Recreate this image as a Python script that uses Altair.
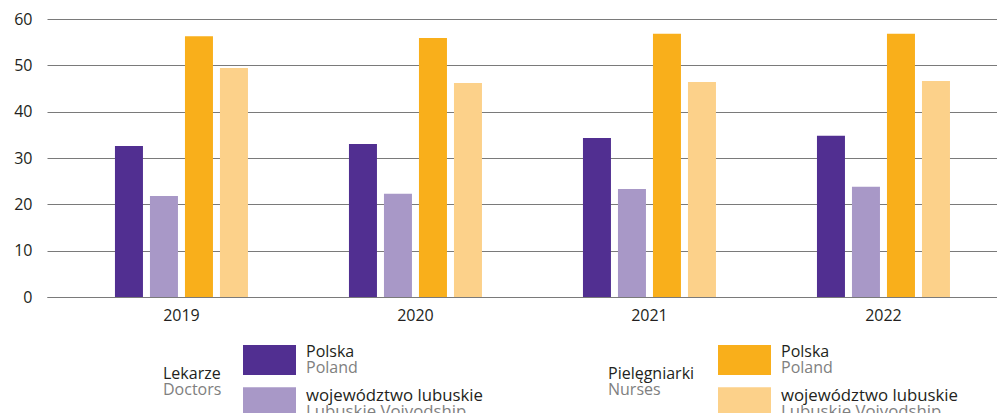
import altair as alt
import pandas as pd

years = ["2019", "2020", "2021", "2022"]
series_keys = ["doc_pl", "doc_lub", "nur_pl", "nur_lub"]
doctors_poland = [32.6, 33.0, 34.3, 34.8]
doctors_lubuskie = [21.8, 22.3, 23.3, 23.8]
nurses_poland = [56.3, 55.9, 56.8, 56.8]
nurses_lubuskie = [49.4, 46.2, 46.4, 46.6]
colors = ["#512F91", "#A898C7", "#F9AF1B", "#FCD18A"]
y_ticks = [0, 10, 20, 30, 40, 50, 60]

group_titles_pl = ["Lekarze", "Pielęgniarki"]
group_titles_en = ["Doctors", "Nurses"]
item_labels_pl = ["Polska", "województwo lubuskie"]
item_labels_en = ["Poland", "Lubuskie Voivodship"]

FONT = "Open Sans"
DARK = "#231F20"
GREY = "#808080"

rows = []
for i, yr in enumerate(years):
    for key, vals in zip(series_keys, [doctors_poland, doctors_lubuskie, nurses_poland, nurses_lubuskie]):
        rows.append({"year": yr, "series": key, "value": vals[i]})
df = pd.DataFrame(rows)

bars = alt.Chart(df).mark_bar().encode(
    x=alt.X("year:N", sort=years, title=None,
            scale=alt.Scale(paddingInner=0.4316, paddingOuter=0.2457, align=0.591),
            axis=alt.Axis(labelAngle=0, labelFont=FONT, labelFontSize=16, labelColor=DARK,
                          labelPadding=10, ticks=False, domain=True, domainColor="#7a7a7a",
                          domainWidth=1, grid=False)),
    xOffset=alt.XOffset("series:N", sort=series_keys,
                        scale=alt.Scale(paddingInner=0.2, paddingOuter=0)),
    y=alt.Y("value:Q", title=None, scale=alt.Scale(domain=[0, 60], nice=False),
            axis=alt.Axis(values=y_ticks, labelFont=FONT, labelFontSize=16, labelColor=DARK,
                          labelPadding=15, ticks=False, domain=False, grid=True,
                          gridColor="#7a7a7a", gridWidth=1)),
    color=alt.Color("series:N", scale=alt.Scale(domain=series_keys, range=colors), legend=None),
)

one = pd.DataFrame({"k": [0]})


def legend_rect(color, x0, x1, y0, y1):
    return alt.Chart(one).mark_rect(color=color).encode(
        x=alt.value(x0), x2=alt.value(x1), y=alt.value(y0), y2=alt.value(y1))


def legend_text(text, color, x, y, size=16):
    return alt.Chart(one).mark_text(align="left", baseline="alphabetic", font=FONT,
                                    fontSize=size, color=color).encode(
        x=alt.value(x), y=alt.value(y), text=alt.value(text))


layers = [bars]
group_x = [116, 561]
rect_x = [196, 671]
for g in range(2):
    layers.append(legend_text(group_titles_pl[g], DARK, group_x[g], 360))
    layers.append(legend_text(group_titles_en[g], GREY, group_x[g], 376))
    for j in range(2):
        c = colors[g * 2 + j]
        y0 = 326 + j * 42.3
        layers.append(legend_rect(c, rect_x[g], rect_x[g] + 53, y0, y0 + 30))
        size = 16 if j == 0 else 16.8
        layers.append(legend_text(item_labels_pl[j], DARK, rect_x[g] + 63, 337.7 + j * 44.3, size))
        layers.append(legend_text(item_labels_en[j], GREY, rect_x[g] + 63, 354 + j * 44.3, size))

chart = alt.layer(*layers).properties(
    width=950, height=278,
    autosize=alt.AutoSizeParams(type="none"),
    padding={"left": 39, "top": 11, "right": 0, "bottom": 116},
    background="white",
).configure_view(stroke=None)

chart.save("out.html", embed_options={"renderer": "svg", "actions": False})
